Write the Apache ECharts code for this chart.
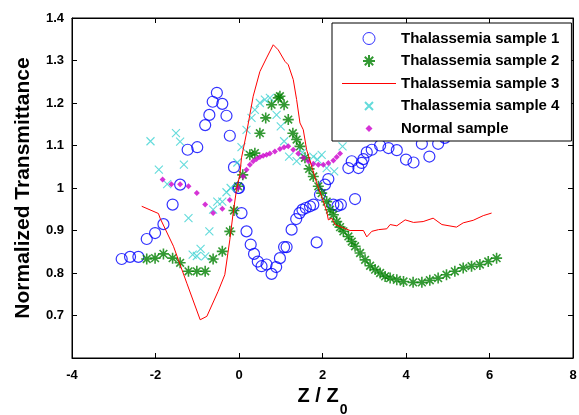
<!DOCTYPE html>
<html>
<head>
<meta charset="utf-8">
<script src="https://cdn.jsdelivr.net/npm/echarts@6/dist/echarts.min.js"></script>
<style>html,body{margin:0;padding:0;background:#fff}#c{width:579px;height:415px}</style>
</head>
<body>
<div id="c"></div>
<script>
const seriesNames = ['Thalassemia sample 1','Thalassemia sample 2','Thalassemia sample 3','Thalassemia sample 4','Normal sample'];
const xTickValues = [-4,-2,0,2,4,6,8];
const yTickValues = [0.7,0.8,0.9,1.0,1.1,1.2,1.3,1.4];

const sample1 = [[-2.81,0.833],[-2.61,0.838],[-2.41,0.838],[-2.21,0.88],[-2.01,0.894],[-1.81,0.915],[-1.59,0.961],[-1.41,1.008],[-1.23,1.09],[-1.0,1.096],[-0.81,1.148],[-0.71,1.172],[-0.63,1.203],[-0.53,1.224],[-0.40,1.198],[-0.30,1.17],[-0.22,1.123],[-0.12,1.049],[-0.02,1.0],[0.0,1.0],[0.06,0.941],[0.18,0.898],[0.28,0.867],[0.36,0.845],[0.45,0.827],[0.54,0.816],[0.66,0.82],[0.78,0.798],[0.89,0.814],[0.98,0.835],[1.08,0.861],[1.14,0.861],[1.26,0.902],[1.37,0.927],[1.45,0.941],[1.52,0.949],[1.60,0.953],[1.70,0.957],[1.78,0.961],[1.86,0.872],[1.94,0.984],[2.06,1.008],[2.14,1.021],[2.26,0.961],[2.36,0.958],[2.44,0.961],[2.62,1.047],[2.70,1.063],[2.78,0.974],[2.86,1.047],[2.94,1.059],[2.98,1.068],[3.06,1.084],[3.18,1.09],[3.38,1.10],[3.58,1.094],[3.78,1.089],[4.0,1.067],[4.18,1.06],[4.38,1.104],[4.56,1.074],[4.77,1.104],[4.93,1.118]];

const sample2 = [[-2.21,0.833],[-2.01,0.835],[-1.81,0.845],[-1.59,0.835],[-1.41,0.824],[-1.21,0.804],[-1.01,0.804],[-0.81,0.804],[-0.62,0.833],[-0.40,0.851],[-0.22,0.898],[-0.12,0.947],[-0.02,1.004],[0.09,1.031],[0.26,1.078],[0.38,1.082],[0.50,1.129],[0.64,1.165],[0.78,1.196],[0.94,1.212],[0.98,1.216],[1.08,1.196],[1.18,1.161],[1.29,1.129],[1.38,1.114],[1.46,1.098],[1.58,1.071],[1.68,1.045],[1.78,1.027],[1.90,1.004],[1.98,0.988],[2.10,0.968],[2.18,0.949],[2.26,0.937],[2.34,0.921],[2.42,0.908],[2.50,0.898],[2.62,0.886],[2.70,0.874],[2.78,0.863],[2.90,0.847],[3.02,0.831],[3.14,0.817],[3.26,0.808],[3.38,0.80],[3.50,0.792],[3.62,0.788],[3.78,0.784],[3.94,0.78],[4.17,0.778],[4.38,0.778],[4.57,0.783],[4.77,0.788],[4.97,0.796],[5.17,0.804],[5.37,0.812],[5.57,0.816],[5.77,0.82],[5.97,0.827],[6.17,0.835]];

const sample3 = [[-2.33,0.957],[-1.93,0.94],[-1.89,0.929],[-1.57,0.863],[-1.25,0.776],[-0.93,0.69],[-0.77,0.698],[-0.50,0.757],[-0.34,0.796],[-0.22,0.878],[-0.14,0.941],[-0.06,0.996],[0.02,1.031],[0.06,1.071],[0.18,1.129],[0.34,1.216],[0.50,1.274],[0.66,1.306],[0.82,1.337],[0.94,1.325],[1.10,1.298],[1.18,1.29],[1.30,1.255],[1.38,1.208],[1.46,1.153],[1.54,1.137],[1.62,1.09],[1.74,1.051],[1.86,1.012],[1.98,0.98],[2.10,0.945],[2.14,0.925],[2.22,0.929],[2.30,0.914],[2.50,0.906],[2.66,0.90],[2.98,0.90],[3.06,0.885],[3.18,0.898],[3.34,0.902],[3.54,0.904],[3.62,0.914],[3.78,0.911],[3.98,0.925],[4.18,0.919],[4.41,0.921],[4.65,0.929],[4.86,0.914],[5.21,0.908],[5.37,0.918],[5.61,0.924],[5.85,0.935],[6.05,0.941]];

const sample4 = [[-2.12,1.11],[-1.92,1.043],[-1.72,1.009],[-1.51,1.129],[-1.41,1.109],[-1.32,1.055],[-1.21,0.929],[-1.11,0.843],[-1.01,0.84],[-0.92,0.857],[-0.81,0.839],[-0.71,0.898],[-0.62,0.949],[-0.52,0.968],[-0.40,0.968],[-0.30,0.99],[-0.20,1.0],[-0.04,1.06],[0.06,1.096],[0.18,1.137],[0.30,1.165],[0.38,1.184],[0.50,1.2],[0.62,1.208],[0.74,1.212],[0.90,1.172],[1.0,1.145],[1.08,1.11],[1.20,1.074],[1.38,1.063],[1.52,1.084],[1.78,1.074],[1.88,1.067],[1.98,1.078],[2.10,1.047],[2.28,1.039],[2.48,1.098]];

const normal = [[-1.83,1.02],[-1.62,1.009],[-1.41,1.009],[-1.21,1.004],[-1.01,0.988],[-0.81,0.961],[-0.62,0.941],[-0.40,0.951],[-0.22,0.972],[-0.02,1.0],[0.10,1.027],[0.18,1.043],[0.26,1.055],[0.34,1.063],[0.42,1.068],[0.50,1.073],[0.58,1.076],[0.66,1.078],[0.74,1.081],[0.86,1.086],[0.98,1.092],[1.08,1.096],[1.18,1.098],[1.30,1.09],[1.42,1.081],[1.54,1.071],[1.66,1.063],[1.78,1.057],[1.90,1.055],[2.02,1.055],[2.14,1.059],[2.26,1.065],[2.34,1.073],[2.42,1.081]];

const FONT = "'Liberation Sans', Arial, sans-serif";
const RED = '#FF0000';
const chart = echarts.init(document.getElementById('c'), null, {renderer: 'canvas'});
function axisCommon() {
  return {
    axisLine: {show: true, onZero: false, lineStyle: {color: '#000', width: 1}},
    axisTick: {show: true, inside: true, length: 5, lineStyle: {color: '#000', width: 1}},
    splitLine: {show: false}
  };
}
const CYAN = '#3CD2D2';
const starPath = 'path://M5,0L5,10M0,5L10,5M1.5,1.5L8.5,8.5M1.5,8.5L8.5,1.5';
const xPath = 'path://M0,0L10,10M0,10L10,0';
const xLegendPath = 'path://M0,0M12,12M2,2L10,10M2,10L10,2';
const diamondLegendPath = 'path://M0,0M12,12M6,2.5L9.5,6L6,9.5L2.5,6Z';
const lineLegendPath = 'path://M0,0L54,0L54,1L0,1Z';
chart.setOption({
  animation: false,
  backgroundColor: '#fff',
  color: ['#0000FF', '#008000', RED, CYAN, '#CC00CC'],
  textStyle: {fontFamily: FONT},
  grid: {left: 72, right: 6, top: 18, bottom: 57, containLabel: false, outerBoundsMode: 'none',
    show: true, borderColor: '#000', borderWidth: 1, backgroundColor: 'rgba(0,0,0,0)'},
  xAxis: [
    Object.assign(axisCommon(), {
      type: 'value', min: -4, max: 8, interval: 2, position: 'bottom',
      name: '{a|Z / Z}{b|0}', nameLocation: 'middle', nameGap: 9,
      nameTextStyle: {rich: {
        a: {fontSize: 20, fontWeight: 'bold', fontFamily: FONT, color: '#000', lineHeight: 22, verticalAlign: 'top'},
        b: {fontSize: 14, fontWeight: 'bold', fontFamily: FONT, color: '#000', lineHeight: 14, padding: [16, 0, 0, 1], verticalAlign: 'top'}}},
      axisLabel: {color: '#000', fontSize: 13, fontWeight: 'bold', fontFamily: FONT, margin: 11,
        formatter: v => xTickValues.indexOf(v) >= 0 ? String(v) : ''}
    }),
    Object.assign(axisCommon(), {type: 'value', min: -4, max: 8, interval: 2, position: 'top', axisLabel: {show: false}})
  ],
  yAxis: [
    Object.assign(axisCommon(), {
      type: 'value', min: 0.6, max: 1.4, interval: 0.1, position: 'left',
      name: 'Normalized Transmittance', nameLocation: 'middle', nameGap: 38,
      nameTextStyle: {fontSize: 21, fontWeight: 'bold', fontFamily: FONT, color: '#000'},
      axisLabel: {color: '#000', fontSize: 13, fontWeight: 'bold', fontFamily: FONT, margin: 8,
        formatter: v => { const r = Math.round(v * 10) / 10; return yTickValues.some(t => Math.abs(t - r) < 1e-6) ? String(r) : ''; }}
    }),
    Object.assign(axisCommon(), {type: 'value', min: 0.6, max: 1.4, interval: 0.1, position: 'right', axisLabel: {show: false}})
  ],
  legend: {
    show: true, orient: 'vertical', left: 332, top: 23,
    backgroundColor: '#fff', borderColor: '#000', borderWidth: 1,
    padding: [8, 12, 5, 10], itemGap: 7.5, itemWidth: 54, itemHeight: 12,
    lineStyle: {color: RED, width: 1},
    textStyle: {fontSize: 15, fontWeight: 'bold', fontFamily: FONT, color: '#000'},
    data: [
      {name: seriesNames[0], itemStyle: {borderWidth: 1}},
      {name: seriesNames[1]},
      {name: seriesNames[2], icon: lineLegendPath, itemStyle: {color: RED, borderColor: RED, borderWidth: 0}, lineStyle: {color: RED, width: 1}},
      {name: seriesNames[3], icon: xLegendPath},
      {name: seriesNames[4], icon: diamondLegendPath}
    ],
    z: 10
  },
  series: [
    {name: seriesNames[0], type: 'scatter', data: sample1, symbol: 'circle', symbolSize: 11,
      itemStyle: {color: 'rgba(0,0,0,0)', borderColor: '#0000FF', borderWidth: 1.2}},
    {name: seriesNames[1], type: 'scatter', data: sample2, symbol: starPath, symbolSize: 11,
      itemStyle: {color: '#008000', borderColor: '#008000', borderWidth: 1.6}},
    {name: seriesNames[2], type: 'line', data: sample3, showSymbol: false, symbol: 'none', color: RED,
      lineStyle: {color: RED, width: 1}, itemStyle: {color: RED}},
    {name: seriesNames[3], type: 'scatter', data: sample4, symbol: xPath, symbolSize: 8,
      itemStyle: {color: CYAN, borderColor: CYAN, borderWidth: 1.1}},
    {name: seriesNames[4], type: 'scatter', data: normal, symbol: 'diamond', symbolSize: 6,
      itemStyle: {color: '#CC00CC'}}
  ]
});
</script>
</body>
</html>
